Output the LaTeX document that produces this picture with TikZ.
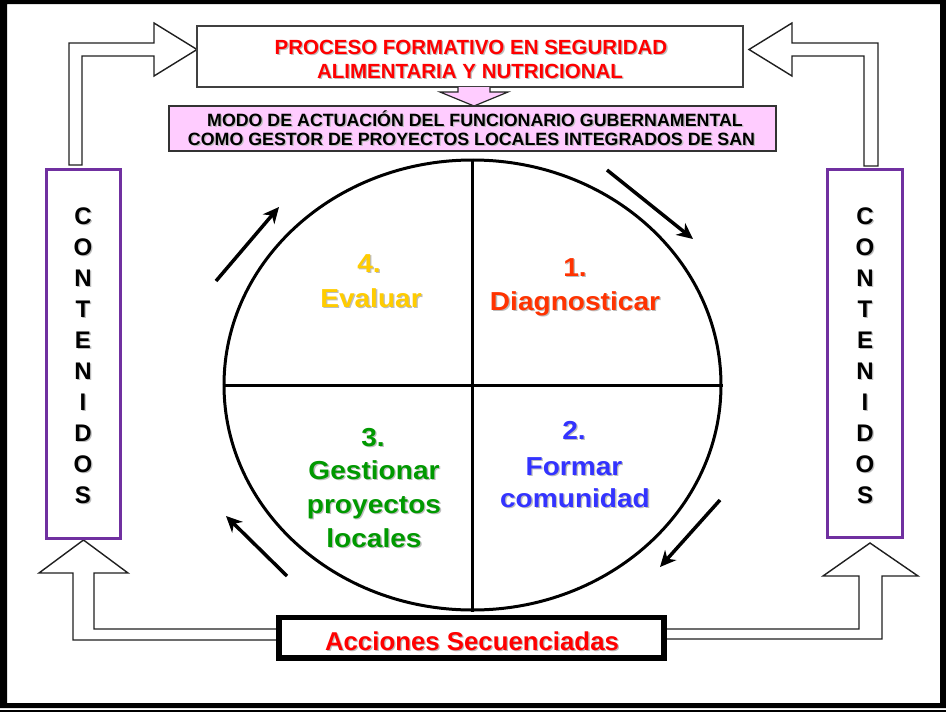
\documentclass[tikz,border=0pt]{standalone}
\usepackage{fontspec}
\setmainfont{Liberation Sans}
\newfontfamily\quadfont{Liberation Sans}[FakeStretch=1.08]
\usetikzlibrary{arrows.meta,shapes.geometric}
\definecolor{pinkbox}{HTML}{FFCCFF}
\definecolor{purplebox}{HTML}{7030A0}
\definecolor{ttlred}{HTML}{FF0000}
\definecolor{qyellow}{HTML}{FFCC00}
\definecolor{qred}{HTML}{FF3300}
\definecolor{qgreen}{HTML}{009900}
\definecolor{qblue}{HTML}{3333FF}
\definecolor{shadowgray}{HTML}{BDBDBD}
% #1 style, #2 name, #3 position, #4 text
\newcommand\stxt[4]{%
  \node[#1, text=shadowgray, xshift=1.3pt, yshift=-1.3pt] at #3 {#4};
  \node[#1] (#2) at #3 {#4};}
\tikzset{
  txt/.style={inner sep=0pt, anchor=base, font=\bfseries},
  ttl/.style={txt, text=ttlred, font=\bfseries\fontsize{20.5}{24}\selectfont},
  modo/.style={txt, text=black, text height=12pt, text depth=0pt, font=\bfseries\fontsize{17.8}{20}\selectfont},
  acc/.style={txt, text=ttlred, font=\bfseries\fontsize{25.8}{30}\selectfont},
  cont/.style={txt, text=black, font=\bfseries\fontsize{24}{28}\selectfont},
  qd/.style={txt, font=\quadfont\bfseries\fontsize{26}{30}\selectfont},
  plainbox/.style={draw=black!75, line width=2pt, fill=white, inner sep=0pt},
  pinkrect/.style={draw=black!80, line width=1.5pt, fill=pinkbox, inner sep=0pt},
  purplerect/.style={draw=purplebox, line width=3pt, fill=white, inner sep=0pt},
  accbox/.style={draw=black, line width=5.5pt, fill=white, inner sep=0pt},
  harrow/.style={draw=black!88, line width=1.4pt, fill=white, line join=miter},
  cyc/.style={line width=3.5pt, -{Stealth[length=16pt, width=15pt, inset=5pt]}},
}
\begin{document}
\begin{tikzpicture}[x=1pt, y=-1pt]
\useasboundingbox (0,0) rectangle (946,713);
\fill[white] (0,0) rectangle (946,713);
% outer frame
\fill[black, even odd rule] (0,0) rectangle (946,708) (7,4) rectangle (940,703);
\fill[black] (0,710) rectangle (946,712);

% hollow arrows (shapes)
\draw[harrow] (69,165) -- (69,43) -- (154,43) -- (154,23) -- (197,49.5) -- (154,76) -- (154,56) -- (82,56) -- (82,165) -- cycle;
\draw[harrow] (878,166) -- (878,43) -- (792,43) -- (792,23) -- (749,49.5) -- (792,76) -- (792,56) -- (864,56) -- (864,166) -- cycle;
\draw[harrow] (280,629) -- (94,629) -- (94,573) -- (128,573) -- (83.5,540) -- (39,573) -- (73,573) -- (73,640) -- (280,640);
\draw[harrow] (664,629) -- (859,629) -- (859,576) -- (823,576) -- (870,543) -- (918,576) -- (882,576) -- (882,639) -- (664,639);

% title box
\node[plainbox, minimum width=546pt, minimum height=61pt] (title) at (470,56.5) {};
\stxt{ttl}{t1}{(471,54)}{PROCESO FORMATIVO EN SEGURIDAD}
\stxt{ttl}{t2}{(470,78)}{ALIMENTARIA Y NUTRICIONAL}

% down arrow
\fill[pinkbox] (458,87) -- (458,92) -- (440,92) -- (474,106) -- (508,92) -- (490,92) -- (490,87) -- cycle;
\draw[draw=black!85, line width=1.2pt, line join=miter] (458,87) -- (458,92) -- (440,92) -- (474,106) -- (508,92) -- (490,92) -- (490,87);

% pink box
\node[pinkrect, minimum width=607pt, minimum height=45pt] (modo) at (472.5,128.5) {};
\stxt{modo}{m1}{(475,126.5)}{MODO DE ACTUACIÓN DEL FUNCIONARIO GUBERNAMENTAL}
\stxt{modo}{m2}{(471.5,145.5)}{COMO GESTOR DE PROYECTOS LOCALES INTEGRADOS DE SAN}

% contenidos boxes
\node[purplerect, minimum width=74pt, minimum height=369pt] (leftc) at (83,353.5) {};
\node[purplerect, minimum width=75pt, minimum height=368pt] (rightc) at (864.5,353) {};
\foreach \l [count=\i from 0] in {C,O,N,T,E,N,I,D,O,S} {
  \stxt{cont}{cl\i}{(83,224.5+31*\i)}{\l}
  \stxt{cont}{cr\i}{(865,224.5+31*\i)}{\l}
}

% acciones box
\node[accbox, minimum width=385pt, minimum height=40.5pt] (acc) at (471.5,637.75) {};
\stxt{acc}{acct}{(472,650)}{Acciones Secuenciadas}

% ellipse and cross
\node[draw, ellipse, line width=3pt, minimum width=497pt, minimum height=450pt, inner sep=0pt] (circ) at (472.5,385) {};
\draw[line width=3pt] (circ.north) -- (circ.south);
\draw[line width=3pt] (circ.west) -- (circ.east);

% cycle arrows
\coordinate (a1s) at (216,281); \coordinate (a1e) at (279,207);
\coordinate (a2s) at (607,170); \coordinate (a2e) at (693,239);
\coordinate (a3s) at (720,500); \coordinate (a3e) at (660,567);
\coordinate (a4s) at (287,576); \coordinate (a4e) at (226,516);
\draw[cyc] (a1s) -- (a1e);
\draw[cyc] (a2s) -- (a2e);
\draw[cyc] (a3s) -- (a3e);
\draw[cyc] (a4s) -- (a4e);

% quadrant texts
\stxt{qd, text=qyellow}{q4a}{(369,272)}{4.}
\stxt{qd, text=qyellow}{q4b}{(371,307)}{Evaluar}
\stxt{qd, text=qred}{q1a}{(575,276)}{1.}
\stxt{qd, text=qred}{q1b}{(575,310)}{Diagnosticar}
\stxt{qd, text=qgreen}{q3a}{(373,446)}{3.}
\stxt{qd, text=qgreen}{q3b}{(374,479)}{Gestionar}
\stxt{qd, text=qgreen}{q3c}{(374,513)}{proyectos}
\stxt{qd, text=qgreen}{q3d}{(374,547)}{locales}
\stxt{qd, text=qblue}{q2a}{(574,439)}{2.}
\stxt{qd, text=qblue}{q2b}{(574,475)}{Formar}
\stxt{qd, text=qblue}{q2c}{(575,507)}{comunidad}
\end{tikzpicture}
\end{document}
